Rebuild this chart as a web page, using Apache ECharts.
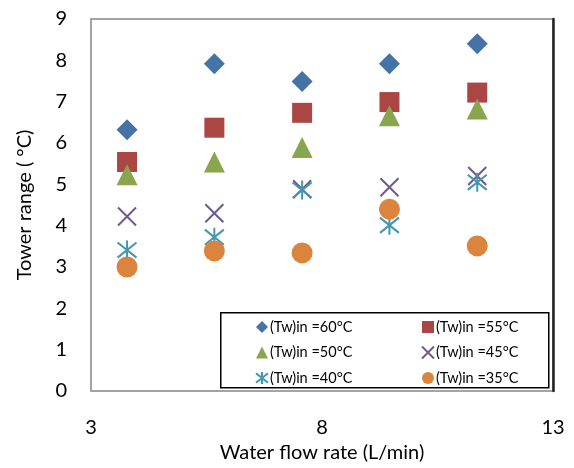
<!DOCTYPE html>
<html>
<head>
<meta charset="utf-8">
<script src="https://cdn.jsdelivr.net/npm/echarts@6/dist/echarts.min.js"></script>
<style>html,body{margin:0;padding:0;background:#fff}#c{width:574px;height:468px}</style>
</head>
<body>
<div id="c"></div>
<script>
// Data
var flowRate = [3.78, 5.67, 7.57, 9.46, 11.36];
var seriesNames = ['(Tw)in =60°C', '(Tw)in =55°C', '(Tw)in =50°C', '(Tw)in =45°C', '(Tw)in =40°C', '(Tw)in =35°C'];
var t60 = [6.32, 7.92, 7.49, 7.92, 8.40];
var t55 = [5.54, 6.37, 6.73, 6.99, 7.22];
var t50 = [5.23, 5.54, 5.89, 6.66, 6.82];
var t45 = [4.22, 4.30, 4.88, 4.93, 5.20];
var t40 = [3.41, 3.72, 4.86, 4.01, 5.05];
var t35 = [3.00, 3.39, 3.34, 4.40, 3.51];
var xTicks = [3, 8, 13];
var yTicks = [0, 1, 2, 3, 4, 5, 6, 7, 8, 9];

var FONT = 'Lato';
function pairs(v){ return flowRate.map(function(x,i){ return [x, v[i]]; }); }

var styles = [
  {symbol:'diamond', size:21, itemStyle:{color:'#4572A7', opacity:1}},
  {symbol:'rect', size:20, itemStyle:{color:'#AA4643', opacity:1}},
  {symbol:'triangle', size:21, itemStyle:{color:'#89A54E', opacity:1}},
  {symbol:'path://M0,0L10,10M10,0L0,10', size:18, itemStyle:{color:'rgba(0,0,0,0)', borderColor:'#71588F', borderWidth:2, opacity:1}},
  {symbol:'path://M0,1L10,9M10,1L0,9M5,0L5,10', size:19, itemStyle:{color:'rgba(0,0,0,0)', borderColor:'#4198AF', borderWidth:2, opacity:1}},
  {symbol:'circle', size:21, itemStyle:{color:'#DB843D', opacity:1}}
];
var values = [t60, t55, t50, t45, t40, t35];

var series = values.map(function(v, i){
  return {
    name: seriesNames[i], type:'scatter', data: pairs(v),
    symbol: styles[i].symbol, symbolSize: styles[i].size,
    itemStyle: styles[i].itemStyle, emphasis:{disabled:true}, z: 3
  };
});

var legendCommon = {
  orient:'vertical', top:313, itemWidth:12, itemHeight:12, itemGap:7.5,
  textStyle:{fontFamily:FONT, fontSize:14.5, color:'#000', lineHeight:18, padding:[0,0,0,-3]},
  selectedMode:false
};

var chart = echarts.init(document.getElementById('c'), null, {renderer:'canvas'});
chart.setOption({
  animation:false,
  backgroundColor:'#fff',
  grid:{left:91, right:21, top:19, bottom:74, show:true, borderColor:'#868686', borderWidth:1.5},
  xAxis:{
    type:'value', min:3, max:13, interval:5,
    name:'Water flow rate (L/min)', nameLocation:'middle', nameGap:52,
    nameTextStyle:{fontFamily:FONT, fontSize:20, color:'#000'},
    axisLine:{show:false}, axisTick:{show:false}, splitLine:{show:false},
    axisLabel:{fontFamily:FONT, fontSize:20, color:'#000', margin:27,
      formatter:function(v){ return xTicks.indexOf(v) >= 0 ? String(v) : ''; }}
  },
  yAxis:[{
    type:'value', min:0, max:9, interval:1,
    name:'Tower range ( °C)', nameLocation:'middle', nameGap:56, nameRotate:90,
    nameTextStyle:{fontFamily:FONT, fontSize:20, color:'#000'},
    axisLine:{show:false}, axisTick:{show:false}, splitLine:{show:false},
    axisLabel:{fontFamily:FONT, fontSize:20, color:'#000', margin:24,
      formatter:function(v){ return yTicks.indexOf(v) >= 0 ? String(v) : ''; }}
  },{
    type:'value', min:0, max:9, position:'right',
    axisLine:{show:true, lineStyle:{color:'#222', width:2.5}}, axisTick:{show:false},
    axisLabel:{show:false}, splitLine:{show:false}
  }],
  legend:[
    Object.assign({left:250, data:[seriesNames[0], seriesNames[2], seriesNames[4]]}, legendCommon),
    Object.assign({left:416, data:[seriesNames[1], seriesNames[3], seriesNames[5]]}, legendCommon)
  ],
  graphic:[{
    type:'rect', left:220, top:312, z:2,
    shape:{width:328, height:75},
    style:{fill:'#fff', stroke:'#000', lineWidth:1.5}
  }],
  series: series
});
</script>
</body>
</html>
